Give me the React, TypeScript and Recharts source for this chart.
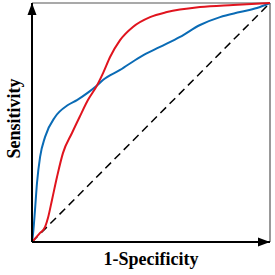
import { ComposedChart, Line, XAxis, YAxis, ReferenceLine, ReferenceDot } from "recharts";

// ROC points (x = 1-specificity, y = sensitivity)
const blueX = [0, 0.005, 0.0126, 0.021, 0.034, 0.055, 0.097, 0.151, 0.189, 0.235, 0.273, 0.298, 0.37, 0.454, 0.538, 0.622, 0.706, 0.79, 0.874, 0.945, 1];
const blueY = [0, 0.04, 0.134, 0.247, 0.356, 0.44, 0.523, 0.573, 0.594, 0.625, 0.655, 0.678, 0.72, 0.774, 0.816, 0.858, 0.908, 0.941, 0.962, 0.979, 1];

const redX = [0, 0.034, 0.055, 0.067, 0.084, 0.105, 0.13, 0.168, 0.2, 0.235, 0.273, 0.3, 0.328, 0.37, 0.424, 0.496, 0.567, 0.706, 0.845, 1];
const redY = [0, 0.038, 0.063, 0.1, 0.176, 0.272, 0.372, 0.456, 0.523, 0.594, 0.655, 0.71, 0.774, 0.845, 0.9, 0.941, 0.962, 0.983, 0.992, 1];

const chanceX = [0, 1];
const chanceY = [0, 1];

const toRows = (xs: number[], ys: number[]) => xs.map((x, i) => ({ x, y: ys[i] }));

const blueData = toRows(blueX, blueY);
const redData = toRows(redX, redY);
const chanceData = toRows(chanceX, chanceY);

const font = { fontFamily: "'Liberation Serif', 'Times New Roman', serif", fontWeight: 700, fontSize: 18, fill: "#000" };

const UpArrow = (props: any) => {
  const { cx, cy } = props;
  return <polygon points={`${cx},${cy} ${cx - 4.5},${cy + 12} ${cx + 4.5},${cy + 12}`} fill="#000" />;
};

const RightArrow = (props: any) => {
  const { cx, cy } = props;
  return <polygon points={`${cx},${cy} ${cx - 12},${cy - 4.5} ${cx - 12},${cy + 4.5}`} fill="#000" />;
};

export default function App() {
  return (
    <div style={{ position: "absolute", left: 0, top: 0, background: "#fff" }}>
      <ComposedChart width={275} height={275} margin={{ top: 3, right: 5, bottom: 0, left: 0 }}>
        <XAxis
          type="number"
          dataKey="x"
          domain={[0, 1]}
          tick={false}
          tickLine={false}
          height={33}
          axisLine={{ stroke: "#000", strokeWidth: 2 }}
          label={{ value: "1-Specificity", position: "center", style: font }}
        />
        <YAxis
          type="number"
          dataKey="y"
          domain={[0, 1]}
          tick={false}
          tickLine={false}
          width={32}
          axisLine={{ stroke: "#000", strokeWidth: 2 }}
          label={{ value: "Sensitivity", position: "center", angle: -90, dx: -2, dy: -4, style: font }}
        />
        <ReferenceLine y={1} stroke="#555" strokeWidth={1.2} />
        <ReferenceLine x={1} stroke="#555" strokeWidth={1.2} />
        <Line data={chanceData} dataKey="y" type="linear" stroke="#000" strokeWidth={1.5} strokeDasharray="8 5" dot={false} isAnimationActive={false} />
        <Line data={blueData} dataKey="y" type="monotone" stroke="#0a6bb5" strokeWidth={2} dot={false} isAnimationActive={false} />
        <Line data={redData} dataKey="y" type="monotone" stroke="#e0141e" strokeWidth={2} dot={false} isAnimationActive={false} />
        <ReferenceDot x={0} y={1} r={0} shape={UpArrow} ifOverflow="visible" />
        <ReferenceDot x={1} y={0} r={0} shape={RightArrow} ifOverflow="visible" />
      </ComposedChart>
    </div>
  );
}
